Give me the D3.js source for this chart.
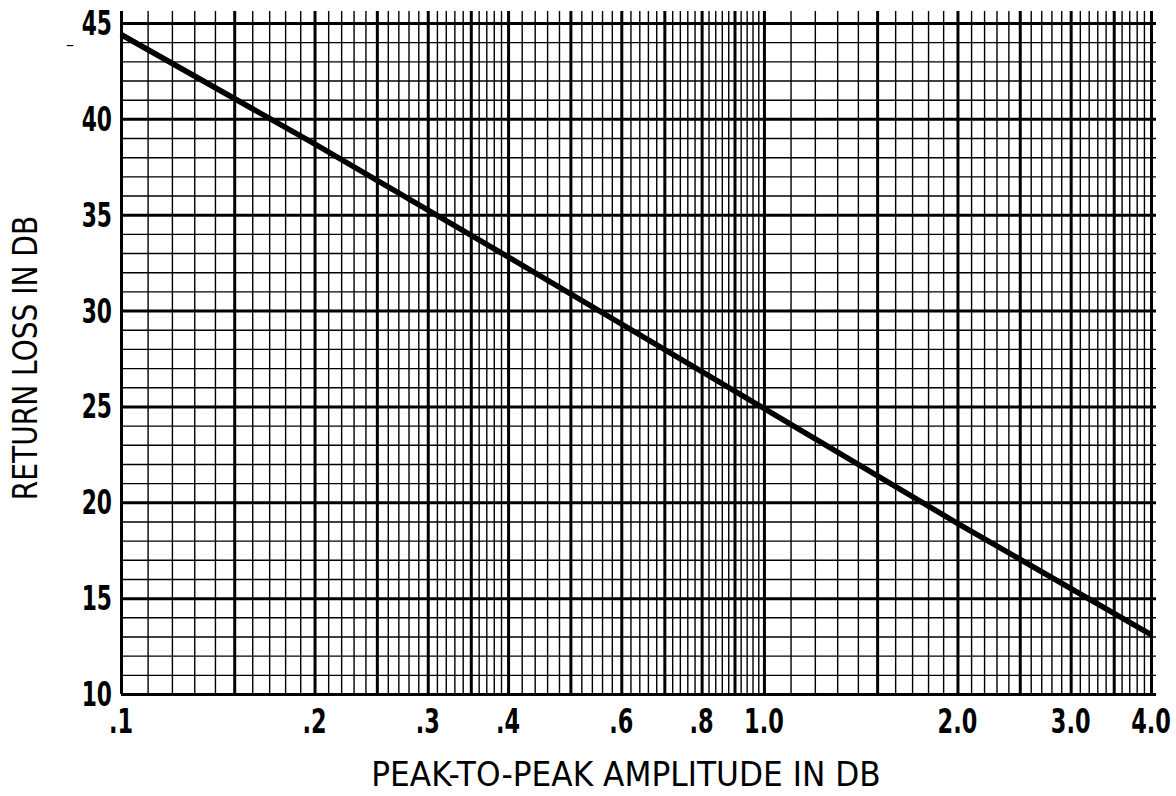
<!DOCTYPE html>
<meta charset="utf-8">
<script src="https://cdn.jsdelivr.net/npm/d3@7"></script>
<style>
  body { margin: 0; background: #fff; }
  text { font-family: "DejaVu Sans", sans-serif; fill: #000; }
  .grid .domain { display: none; }
  .minor line { stroke: #000; stroke-width: 1.4; }
  .major line { stroke: #000; stroke-width: 3; }
</style>
<div id="chart"></div>
<script>

// tick labels
var ampTicks  = [0.1, 0.2, 0.3, 0.4, 0.6, 0.8, 1.0, 2.0, 3.0, 4.0];
var ampLabels = [".1", ".2", ".3", ".4", ".6", ".8", "1.0", "2.0", "3.0", "4.0"];
var lossTicks = [10, 15, 20, 25, 30, 35, 40, 45];

// curve
var ampValues  = [0.1, 0.2, 0.4, 1.0, 2.0, 4.0];
var lossValues = [44.4, 38.7, 32.8, 24.9, 18.9, 13.1];

// graph-paper rulings
var ampMinor = d3.range(10, 40).map(function(d) { return d / 100; })
  .concat(d3.range(40, 100, 2).map(function(d) { return d / 100; }))
  .concat(d3.range(10, 41).map(function(d) { return d / 10; }));
var ampMajor = [0.1, 0.15, 0.2, 0.25, 0.3, 0.35, 0.4, 0.5, 0.6, 0.7, 0.8, 0.9, 1.0, 1.5, 2.0, 2.5, 3.0, 3.5, 4.0];
var lossMinor = d3.range(10, 46);

var W = 1176, H = 796;
var svg = d3.select("#chart").append("svg")
  .attr("width", W).attr("height", H);

var x = d3.scaleLog().domain([0.1, 4.0]).range([121, 1151]);
var y = d3.scaleLinear().domain([10, 45]).range([694, 23]);
var gridTop = y(45.63), gridBottom = y(10);

// vertical rulings
svg.append("g").attr("class", "grid minor")
  .attr("transform", "translate(0," + gridBottom + ")")
  .call(d3.axisBottom(x).tickValues(ampMinor).tickSize(-(gridBottom - gridTop)).tickFormat(""));
svg.append("g").attr("class", "grid major")
  .attr("transform", "translate(0," + gridBottom + ")")
  .call(d3.axisBottom(x).tickValues(ampMajor).tickSize(-(gridBottom - gridTop)).tickFormat(""));

// horizontal rulings
var right = x(4.0) + 5;
svg.append("g").attr("class", "grid minor")
  .attr("transform", "translate(" + right + ",0)")
  .call(d3.axisLeft(y).tickValues(lossMinor).tickSize(right - x(0.1)).tickFormat(""));
svg.append("g").attr("class", "grid major")
  .attr("transform", "translate(" + right + ",0)")
  .call(d3.axisLeft(y).tickValues(lossTicks).tickSize(right - x(0.1)).tickFormat(""));

// the curve
var pts = ampValues.map(function(a, i) { return [a, lossValues[i]]; });
svg.append("path")
  .datum(pts)
  .attr("fill", "none")
  .attr("stroke", "#000")
  .attr("stroke-width", 5.5)
  .attr("d", d3.line().x(function(d) { return x(d[0]); }).y(function(d) { return y(d[1]); }));

// x tick labels (narrow lettering)
svg.selectAll(".xlab")
  .data(ampTicks)
  .enter().append("text")
  .attr("transform", function(d) { return "translate(" + x(d) + ",733)scale(0.68,1)"; })
  .attr("text-anchor", "middle")
  .attr("font-size", 33)
  .attr("font-weight", "bold")
  .text(function(d, i) { return ampLabels[i]; });

// y tick labels
svg.selectAll(".ylab")
  .data(lossTicks)
  .enter().append("text")
  .attr("transform", function(d) { return "translate(112," + (y(d) + 12) + ")scale(0.64,1)"; })
  .attr("text-anchor", "end")
  .attr("font-size", 34)
  .attr("font-weight", "bold")
  .text(function(d) { return d; });

// axis titles
svg.append("text")
  .attr("transform", "translate(37,358)rotate(-90)scale(0.85,1)")
  .attr("text-anchor", "middle")
  .attr("font-size", 33)
  .text("RETURN LOSS IN DB");

svg.append("text")
  .attr("transform", "translate(626,786)scale(0.92,1)")
  .attr("text-anchor", "middle")
  .attr("font-size", 34)
  .text("PEAK-TO-PEAK AMPLITUDE IN DB");

// stray mark on the scan
svg.append("text")
  .attr("x", 66).attr("y", 50)
  .attr("font-size", 16)
  .text("–");

</script>
